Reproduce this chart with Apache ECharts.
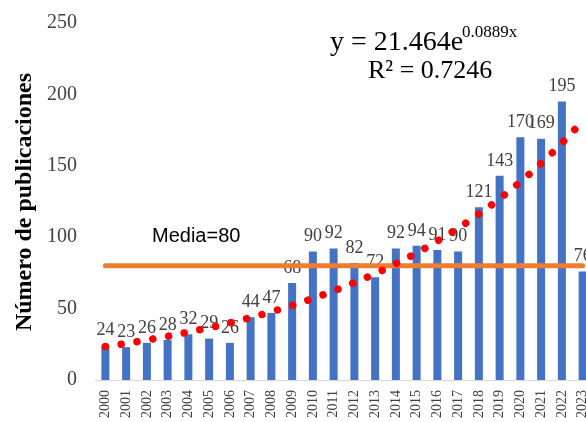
<!DOCTYPE html>
<html>
<head>
<meta charset="utf-8">
<script src="https://cdn.jsdelivr.net/npm/echarts@6/dist/echarts.min.js"></script>
<style>html,body{margin:0;padding:0;background:#fff}#c{width:586px;height:422px}</style>
</head>
<body>
<div id="c"></div>
<script>
const years = ['2000','2001','2002','2003','2004','2005','2006','2007','2008','2009','2010','2011','2012','2013','2014','2015','2016','2017','2018','2019','2020','2021','2022','2023'];
const publications = [24,23,26,28,32,29,26,44,47,68,90,92,82,72,92,94,91,90,121,143,170,169,195,76];
const trendValues = [23.5,25.6,28.0,30.6,33.5,36.6,40.0,43.7,47.8,52.2,57.1,62.4,68.2,74.5,81.4,89.0,97.3,106.3,116.2,127.0,138.8,151.7,165.9,181.3];
const mediaValue = 80;
const yTicks = [0,50,100,150,200,250];

const serif = "'Liberation Serif','Times New Roman',serif";
const chart = echarts.init(document.getElementById('c'), null, {renderer:'canvas'});
chart.setOption({
  animation:false,
  backgroundColor:'#ffffff',
  grid:{left:95, top:23, right:-7, bottom:42, containLabel:false, outerBoundsMode:'none'},
  xAxis:{
    type:'category', data:years,
    axisLine:{lineStyle:{color:'#d9d9d9', width:1}},
    axisTick:{show:false},
    axisLabel:{rotate:90, interval:0, fontFamily:serif, fontSize:14, color:'#404040', margin:10}
  },
  yAxis:{
    type:'value', min:yTicks[0], max:yTicks[yTicks.length-1], interval:50,
    axisLine:{show:false}, axisTick:{show:false}, splitLine:{show:false},
    axisLabel:{fontFamily:serif, fontSize:20, color:'#404040', margin:18}
  },
  series:[
    {
      type:'bar', data:publications, barWidth:8,
      itemStyle:{color:'#4472C4'},
      label:{show:true, position:'top', distance:6, fontFamily:serif, fontSize:18, color:'#404040'},
      z:2
    },
    {
      type:'line', data:years.map(()=>mediaValue), symbol:'none',
      lineStyle:{color:'#ED7D31', width:5, cap:'round'}, z:3
    },
    {
      type:'line', data:trendValues, symbol:'none', smooth:true,
      lineStyle:{color:'#FF0000', width:7.5, type:[0.001,16], cap:'round'}, z:4
    }
  ],
  graphic:[
    {type:'text', x:25, y:202, rotation:Math.PI/2, style:{text:'Número de publicaciones', font:"bold 24px "+serif, fill:'#000', textAlign:'center', textVerticalAlign:'middle'}},
    {type:'text', x:152, y:236, style:{text:'Media=80', font:"20px 'Liberation Sans', Arial, sans-serif", fill:'#000', textAlign:'left', textVerticalAlign:'middle'}},
    {type:'text', x:330, y:57, style:{text:'y = 21.464e', font:"28px "+serif, fill:'#000', textAlign:'left', textVerticalAlign:'bottom'}},
    {type:'text', x:462, y:33, style:{text:'0.0889x', font:"17px "+serif, fill:'#000', textAlign:'left', textVerticalAlign:'middle'}},
    {type:'text', x:368, y:71, style:{text:'R² = 0.7246', font:"26px "+serif, fill:'#000', textAlign:'left', textVerticalAlign:'middle'}}
  ]
});
</script>
</body>
</html>
